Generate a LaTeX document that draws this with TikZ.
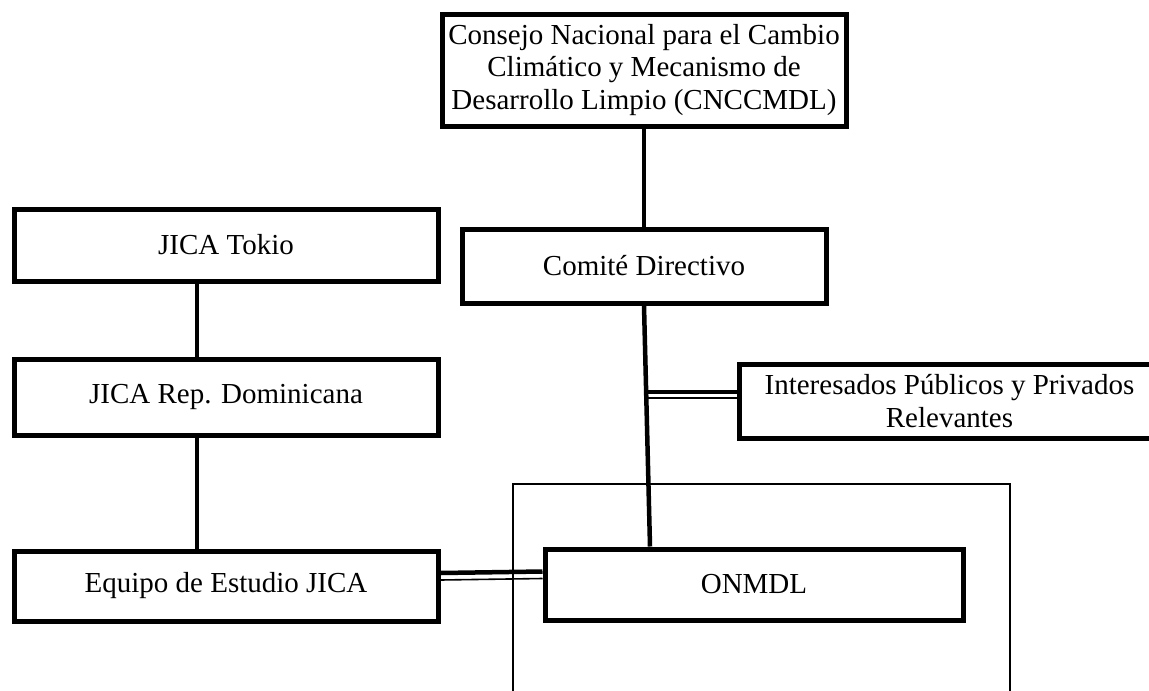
\documentclass[tikz,border=0pt]{standalone}
\usepackage{fontspec}
\setmainfont{Liberation Serif}
\usepackage{tikz}
\usetikzlibrary{positioning, calc}

\tikzset{
    orgbox/.style={draw, line width=5pt, fill=white, align=center, inner sep=0pt,
        font=\fontsize{29}{32.5}\selectfont},
    link/.style={line width=4.5pt},
    thinlink/.style={line width=1.6pt}
}

\begin{document}
\begin{tikzpicture}[x=1pt, y=-1pt]
    \useasboundingbox (0,0) rectangle (1149,691);

    % Frame around ONMDL (open at the bottom)
    \draw[line width=1.5pt] (513,700) |- (1010,484) -- (1010,700);

    % Boxes
    \node[orgbox, minimum width=404pt, minimum height=112pt] (cnc) at (644,70)
        {Consejo Nacional para el Cambio\\Climático y Mecanismo de\\Desarrollo Limpio (CNCCMDL)};
    \node[orgbox, minimum width=364pt, minimum height=74pt] (comite) at (644,266) {Comité Directivo};
    \node[orgbox, minimum width=421pt, minimum height=74pt] (inter) at (949.5,401)
        {Interesados Públicos y Privados\\Relevantes};
    \node[orgbox, minimum width=424pt, minimum height=72pt] (tokio) at (226,245) {JICA Tokio};
    \node[orgbox, minimum width=424pt, minimum height=76pt] (rep) at (226,397) {JICA Rep. Dominicana};
    \node[orgbox, minimum width=424pt, minimum height=70pt] (equipo) at (226,586) {Equipo de Estudio JICA};
    \node[orgbox, minimum width=418pt, minimum height=71pt] (onmdl) at (754,584.5) {ONMDL};

    % Vertical links
    \draw[link] (cnc.south) -- (comite.north);
    \draw[link] (comite.south) -- ([xshift=-104pt]onmdl.north);
    \draw[link] ([xshift=-29pt]tokio.south) -- ([xshift=-29pt]rep.north);
    \draw[link] ([xshift=-29pt]rep.south) -- ([xshift=-29pt]equipo.north);

    % Double links (thick over thin)
    \coordinate (branch) at ($(comite.south)!0.37!([xshift=-104pt]onmdl.north)$);
    \draw[link] ([yshift=9pt]inter.west) -- ([yshift=9pt]inter.west -| branch);
    \draw[thinlink] ([yshift=3pt]inter.west) -- ([yshift=3pt]inter.west -| branch);
    \draw[link] ([yshift=13pt]equipo.east) -- ([yshift=13pt]onmdl.west);
    \draw[thinlink] ([yshift=6pt]equipo.east) -- ([yshift=6pt]onmdl.west);
\end{tikzpicture}
\end{document}
